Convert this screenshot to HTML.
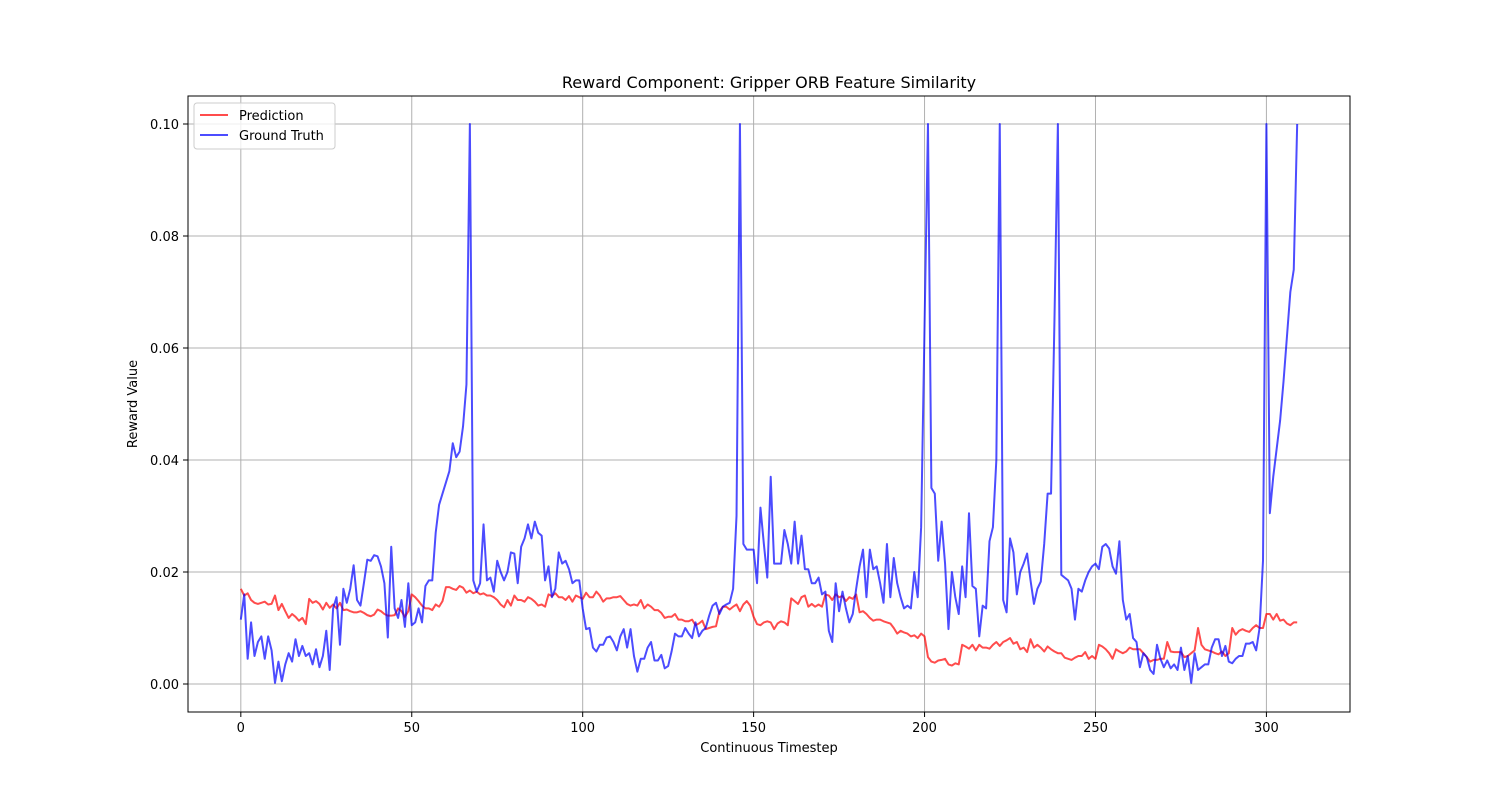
<!DOCTYPE html>
<html><head><meta charset="utf-8"><style>
html,body{margin:0;padding:0;background:#fff;}
svg{display:block;font-family:"DejaVu Sans","Liberation Sans",sans-serif;}
</style></head>
<body>
<svg id="chart" width="1500" height="800" viewBox="0 0 1500 800">
<rect x="0" y="0" width="1500" height="800" fill="#fff"/>
<g id="grid"></g>
<g id="series"></g>
<rect x="188" y="96" width="1162" height="616" fill="none" stroke="#000" stroke-width="1"/>
<g id="xticks"></g>
<g id="yticks"></g>
<text x="769" y="88" text-anchor="middle" font-size="16">Reward Component: Gripper ORB Feature Similarity</text>
<text x="769" y="752" text-anchor="middle" font-size="13">Continuous Timestep</text>
<text x="137" y="404" text-anchor="middle" font-size="13" transform="rotate(-90 137 404)">Reward Value</text>
<g>
<rect x="194" y="103" width="141" height="46" rx="3" fill="#fff" fill-opacity="0.8" stroke="#ccc"/>
<g>
<line x1="200" y1="115" x2="228" y2="115" stroke="#ff0000" stroke-opacity="0.7" stroke-width="2"/>
<text x="239" y="120" font-size="13">Prediction</text></g>
<g>
<line x1="200" y1="135" x2="228" y2="135" stroke="#0000ff" stroke-opacity="0.7" stroke-width="2"/>
<text x="239" y="140" font-size="13">Ground Truth</text></g>
</g>
</svg>
<script>
const xTicks=[0,50,100,150,200,250,300];
const yTicks=[0,0.02,0.04,0.06,0.08,0.10];
const yTickLabels=["0.00","0.02","0.04","0.06","0.08","0.10"];
const prediction=[
.0170,.0158,.0162,.0150,.0145,.0143,.0145,.0147,.0142,.0143,
.0158,.0132,.0143,.0130,.0118,.0125,.0120,.0113,.0118,.0107,
.0152,.0145,.0148,.0143,.0133,.0145,.0136,.0142,.0135,.0145,
.0132,.0133,.0130,.0128,.0128,.0130,.0127,.0123,.0121,.0124,
.0133,.0130,.0125,.0122,.0122,.0123,.0135,.0130,.0120,.0130,
.0160,.0155,.0148,.0140,.0135,.0135,.0132,.0142,.0138,.0148,
.0173,.0173,.0170,.0168,.0175,.0172,.0163,.0167,.0162,.0165,
.0160,.0162,.0158,.0158,.0155,.0150,.0142,.0137,.0150,.0140,
.0158,.0150,.0150,.0147,.0155,.0152,.0147,.0140,.0142,.0138,
.0160,.0157,.0162,.0155,.0155,.0150,.0157,.0147,.0158,.0155,
.0152,.0163,.0155,.0155,.0165,.0158,.0147,.0153,.0153,.0155,
.0155,.0157,.0150,.0143,.0140,.0142,.0140,.0150,.0135,.0142,
.0138,.0132,.0132,.0127,.0118,.0120,.0120,.0125,.0115,.0115,
.0112,.0112,.0115,.0105,.0108,.0113,.0098,.0100,.0102,.0103,
.0130,.0138,.0138,.0133,.0138,.0142,.0130,.0142,.0148,.0140,
.0120,.0107,.0105,.0110,.0112,.0110,.0098,.0108,.0112,.0110,
.0105,.0153,.0148,.0143,.0155,.0158,.0138,.0143,.0138,.0142,
.0138,.0160,.0158,.0150,.0160,.0155,.0157,.0148,.0155,.0152,
.0160,.0128,.0130,.0125,.0118,.0113,.0115,.0115,.0112,.0110,
.0108,.0100,.0090,.0095,.0092,.0090,.0085,.0087,.0082,.0090,
.0085,.0048,.0040,.0038,.0042,.0043,.0045,.0035,.0033,.0037,
.0035,.0070,.0067,.0063,.0070,.0060,.0070,.0065,.0065,.0063,
.0070,.0075,.0068,.0075,.0078,.0082,.0072,.0075,.0062,.0065,
.0057,.0080,.0065,.0070,.0065,.0058,.0067,.0062,.0058,.0055,
.0055,.0047,.0045,.0043,.0047,.0050,.0050,.0057,.0045,.0050,
.0045,.0070,.0067,.0062,.0055,.0045,.0062,.0058,.0055,.0058,
.0065,.0062,.0062,.0062,.0055,.0048,.0040,.0043,.0043,.0045,
.0045,.0075,.0058,.0057,.0057,.0057,.0048,.0050,.0055,.0060,
.0100,.0070,.0062,.0060,.0058,.0055,.0053,.0058,.0050,.0055,
.0100,.0088,.0095,.0098,.0095,.0093,.0100,.0105,.0100,.0100,
.0125,.0125,.0115,.0125,.0113,.0115,.0108,.0105,.0110,.0110];
const groundTruth=[
.0115,.0160,.0045,.0110,.0050,.0075,.0085,.0045,.0085,.0060,
.0002,.0040,.0005,.0035,.0055,.0040,.0080,.0050,.0068,.0050,
.0055,.0035,.0062,.0030,.0050,.0095,.0025,.0135,.0155,.0070,
.0170,.0145,.0170,.0212,.0150,.0140,.0180,.0222,.0220,.0230,
.0228,.0210,.0180,.0083,.0245,.0135,.0118,.0150,.0102,.0180,
.0105,.0110,.0135,.0110,.0175,.0185,.0185,.0270,.0320,.0340,
.0360,.0380,.0430,.0405,.0415,.0460,.0535,.1000,.0185,.0165,
.0180,.0285,.0185,.0190,.0165,.0220,.0200,.0185,.0200,.0235,
.0233,.0180,.0245,.0260,.0285,.0260,.0290,.0270,.0265,.0185,
.0210,.0155,.0170,.0235,.0215,.0220,.0205,.0180,.0185,.0185,
.0135,.0098,.0100,.0065,.0058,.0070,.0070,.0083,.0085,.0075,
.0060,.0085,.0098,.0065,.0098,.0050,.0022,.0045,.0045,.0065,
.0075,.0042,.0042,.0052,.0028,.0032,.0058,.0090,.0085,.0085,
.0100,.0090,.0082,.0110,.0085,.0095,.0100,.0122,.0140,.0145,
.0125,.0138,.0142,.0145,.0170,.0300,.1000,.0250,.0240,.0240,
.0240,.0180,.0315,.0250,.0190,.0370,.0215,.0215,.0215,.0275,
.0250,.0215,.0290,.0215,.0265,.0205,.0205,.0180,.0180,.0190,
.0160,.0165,.0095,.0075,.0180,.0130,.0165,.0135,.0110,.0125,
.0170,.0210,.0240,.0155,.0240,.0205,.0210,.0180,.0145,.0250,
.0155,.0225,.0180,.0155,.0135,.0140,.0135,.0200,.0155,.0280,
.0640,.1000,.0350,.0340,.0220,.0290,.0215,.0098,.0200,.0155,
.0125,.0210,.0155,.0305,.0175,.0170,.0085,.0140,.0135,.0255,
.0280,.0400,.1000,.0150,.0128,.0260,.0235,.0160,.0200,.0215,
.0233,.0185,.0143,.0170,.0183,.0250,.0340,.0340,.0650,.1000,
.0195,.0190,.0185,.0170,.0115,.0170,.0165,.0185,.0200,.0210,
.0215,.0205,.0245,.0250,.0242,.0210,.0197,.0255,.0150,.0115,
.0125,.0082,.0075,.0030,.0055,.0048,.0025,.0018,.0070,.0045,
.0030,.0042,.0028,.0035,.0025,.0065,.0025,.0050,.0002,.0055,
.0025,.0030,.0035,.0035,.0065,.0080,.0080,.0050,.0068,.0040,
.0037,.0045,.0050,.0050,.0072,.0072,.0075,.0060,.0100,.0220,
.1000,.0305,.0370,.0420,.0470,.0540,.0620,.0700,.0740,.1000];

const L=188,R=1350,T=96,B=712,xmin=-15.45,xmax=324.45,ymin=-0.005,ymax=0.105;
const xs=v=>L+(v-xmin)/(xmax-xmin)*(R-L);
const ys=v=>B-(v-ymin)/(ymax-ymin)*(B-T);
const NS="http://www.w3.org/2000/svg";
function mk(tag,attrs,parent){const e=document.createElementNS(NS,tag);for(const k in attrs)e.setAttribute(k,attrs[k]);parent.appendChild(e);return e;}
const grid=document.getElementById('grid'),xt=document.getElementById('xticks'),yt=document.getElementById('yticks'),ser=document.getElementById('series');
xTicks.forEach(t=>{
  const x=xs(t);
  const g=mk('line',{x1:x,x2:x,y1:T,y2:B,stroke:'#b0b0b0','stroke-width':1},grid);
  
  
  mk('line',{x1:x,x2:x,y1:B,y2:B+5,stroke:'#000'},xt);
  const tx=mk('text',{x:x,y:B+20,'text-anchor':'middle','font-size':13},xt);
  tx.textContent=t;
  
  
});
yTicks.forEach((t,i)=>{
  const y=ys(t);
  const g=mk('line',{x1:L,x2:R,y1:y,y2:y,stroke:'#b0b0b0','stroke-width':1},grid);
  
  
  mk('line',{x1:L-5,x2:L,y1:y,y2:y,stroke:'#000'},yt);
  const tx=mk('text',{x:L-9,y:y+5,'text-anchor':'end','font-size':13},yt);
  tx.textContent=yTickLabels[i];
  
  
});
function line(arr,color,name){
  const d=arr.map((v,i)=>(i?'L':'M')+xs(i).toFixed(2)+' '+ys(v).toFixed(2)).join(' ');
  const p=mk('path',{d:d,fill:'none',stroke:color,'stroke-opacity':0.7,'stroke-width':2,'stroke-linejoin':'round'},ser);
  
  
}
line(prediction,'#ff0000','prediction-line');
line(groundTruth,'#0000ff','ground-truth-line');
</script>
</body></html>
